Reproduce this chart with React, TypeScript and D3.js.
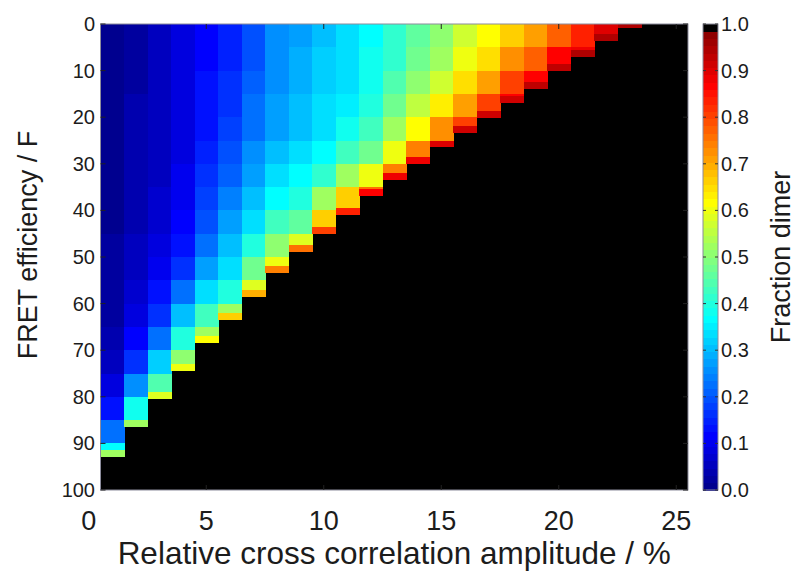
import React, { useEffect, useRef } from 'react';
import * as d3 from 'd3';

// Relative cross correlation amplitude (%) — column centres of the map
const amplitudeColumns = [1, 2, 3, 4, 5, 6, 7, 8, 9, 10, 11, 12, 13, 14, 15, 16, 17, 18, 19, 20, 21, 22, 23, 24, 25];

// FRET efficiency (%) at the start of each 5-unit row band
const fretRows = [0, 5, 10, 15, 20, 25, 30, 35, 40, 45, 50, 55, 60, 65, 70, 75, 80, 85, 90, 95];

// Fraction dimer read per column, row by row (top = FRET 0)
const fractionDimer: number[][] = [
  [0.01, 0.01, 0.01, 0.01, 0.01, 0.01, 0.012, 0.012, 0.014, 0.016, 0.018, 0.022, 0.03, 0.04, 0.06, 0.09, 0.14, 0.22, 0.36],
  [0.03, 0.03, 0.03, 0.032, 0.034, 0.036, 0.038, 0.04, 0.045, 0.05, 0.058, 0.07, 0.09, 0.12, 0.17, 0.25, 0.38],
  [0.05, 0.05, 0.052, 0.054, 0.056, 0.058, 0.062, 0.068, 0.075, 0.085, 0.1, 0.125, 0.165, 0.23, 0.32, 0.45],
  [0.08, 0.08, 0.082, 0.084, 0.086, 0.09, 0.095, 0.105, 0.12, 0.14, 0.17, 0.22, 0.3, 0.4, 0.5],
  [0.12, 0.12, 0.125, 0.13, 0.14, 0.15, 0.16, 0.18, 0.2, 0.23, 0.27, 0.33, 0.43, 0.53],
  [0.15, 0.155, 0.16, 0.17, 0.18, 0.19, 0.21, 0.24, 0.27, 0.3, 0.34, 0.4, 0.52],
  [0.2, 0.2, 0.21, 0.22, 0.23, 0.25, 0.27, 0.3, 0.34, 0.4, 0.48, 0.58],
  [0.25, 0.25, 0.26, 0.27, 0.28, 0.3, 0.33, 0.37, 0.43, 0.5, 0.6],
  [0.28, 0.285, 0.29, 0.3, 0.31, 0.33, 0.36, 0.4, 0.46, 0.58],
  [0.31, 0.315, 0.32, 0.33, 0.34, 0.36, 0.41, 0.52, 0.66],
  [0.33, 0.335, 0.34, 0.355, 0.38, 0.43, 0.52, 0.66],
  [0.37, 0.375, 0.385, 0.4, 0.43, 0.48, 0.6, 0.75],
  [0.41, 0.42, 0.44, 0.47, 0.52, 0.6, 0.74],
  [0.46, 0.47, 0.5, 0.55, 0.62, 0.74],
  [0.51, 0.53, 0.57, 0.63, 0.73],
  [0.57, 0.6, 0.65, 0.71, 0.8],
  [0.61, 0.65, 0.71, 0.8],
  [0.66, 0.72, 0.8, 0.86],
  [0.71, 0.78, 0.86],
  [0.77, 0.86],
  [0.83, 0.88],
  [0.9],
  [],
  [],
  [],
];

// FRET efficiency where each column turns black (no solution)
const blackFromFret = [93, 86.5, 80.5, 74.5, 68.5, 63.5, 58.5, 53.5, 49, 45, 41, 37, 33.5, 30, 26.5, 23.3, 20.2, 17, 14, 10, 7, 3.6, 0.8, 0, 0];

// Fraction dimer in the thin band just above the black region
const edgeFraction = [0.53, 0.53, 0.58, 0.6, 0.62, 0.66, 0.7, 0.74, 0.76, 0.8, 0.84, 0.86, 0.88, 0.89, 0.9, 0.91, 0.92, 0.92, 0.93, 0.93, 0.94, 0.95, 0.95, 0, 0];

const xTicks = [0, 5, 10, 15, 20, 25];
const yTicks = [0, 10, 20, 30, 40, 50, 60, 70, 80, 90, 100];
const colorTicks = [0, 0.1, 0.2, 0.3, 0.4, 0.5, 0.6, 0.7, 0.8, 0.9, 1.0];

function jet(m: number): number[][] {
  const n = Math.ceil(m / 4);
  const u: number[] = [];
  for (let i = 1; i <= n; i++) u.push(i / n);
  for (let i = 0; i < n - 1; i++) u.push(1);
  for (let i = n; i >= 1; i--) u.push(i / n);
  const g0 = Math.ceil(n / 2) - (m % 4 === 1 ? 1 : 0);
  const cols = Array.from({ length: m }, () => [0, 0, 0]);
  for (let k = 0; k < u.length; k++) {
    const gi = g0 + k + 1;
    const ri = gi + n;
    const bi = gi - n;
    if (gi >= 1 && gi <= m) cols[gi - 1][1] = u[k];
    if (ri >= 1 && ri <= m) cols[ri - 1][0] = u[k];
    if (bi >= 1 && bi <= m) cols[bi - 1][2] = u[k];
  }
  return cols;
}

export default function App() {
  const ref = useRef<SVGSVGElement>(null);

  useEffect(() => {
    const svg = d3.select(ref.current);
    svg.selectAll('*').remove();

    const font = '"Liberation Sans", Arial, Helvetica, sans-serif';
    const ink = '#1c1c1c';
    const plot = { left: 100.5, right: 688, top: 24, bottom: 490 };
    const edgeW = 1.5;
    const rowStep = fretRows[1] - fretRows[0];

    const x = d3.scaleLinear().domain([0.5, 25.5]).range([plot.left, plot.right]);
    const y = d3.scaleLinear().domain([0, 100]).range([plot.top, plot.bottom]);

    const palette = jet(63).concat([[0, 0, 0]]);
    const colorOf = (v: number) => {
      const i = Math.max(0, Math.min(63, Math.floor(v * 64)));
      const c = palette[i];
      return d3.rgb(c[0] * 255, c[1] * 255, c[2] * 255).formatHex();
    };

    // black background (invalid region)
    svg.append('rect')
      .attr('x', plot.left).attr('y', plot.top)
      .attr('width', plot.right - plot.left).attr('height', plot.bottom - plot.top)
      .attr('fill', '#000');

    const cells = svg.append('g').attr('shape-rendering', 'crispEdges');
    amplitudeColumns.forEach((a, ci) => {
      const b = blackFromFret[ci];
      if (b <= 0) return;
      const edgeStart = Math.max(0, b - edgeW);
      const x0 = x(a - 0.5);
      const x1 = x(a + 0.5);
      fractionDimer[ci].forEach((v, ri) => {
        const f0 = fretRows[ri];
        const f1 = Math.min(f0 + rowStep, edgeStart);
        if (f1 <= f0) return;
        cells.append('rect')
          .attr('x', x0).attr('y', y(f0))
          .attr('width', x1 - x0 + 0.5).attr('height', y(f1) - y(f0) + 0.5)
          .attr('fill', colorOf(v));
      });
      cells.append('rect')
        .attr('x', x0).attr('y', y(edgeStart))
        .attr('width', x1 - x0 + 0.5).attr('height', y(b) - y(edgeStart))
        .attr('fill', colorOf(edgeFraction[ci]));
    });

    // frame
    svg.append('rect')
      .attr('x', plot.left).attr('y', plot.top)
      .attr('width', plot.right - plot.left).attr('height', plot.bottom - plot.top)
      .attr('fill', 'none').attr('stroke', '#8c8c9c').attr('stroke-width', 1);

    // ticks
    const tickLen = 5;
    const tg = svg.append('g').attr('stroke', '#222').attr('stroke-width', 1);
    xTicks.forEach((t) => {
      const px = x(t);
      if (px < plot.left || px > plot.right) return;
      tg.append('line').attr('x1', px).attr('x2', px).attr('y1', plot.top).attr('y2', plot.top + tickLen);
      tg.append('line').attr('x1', px).attr('x2', px).attr('y1', plot.bottom).attr('y2', plot.bottom - tickLen);
    });
    yTicks.forEach((t) => {
      const py = y(t);
      tg.append('line').attr('x1', plot.left).attr('x2', plot.left + tickLen).attr('y1', py).attr('y2', py);
      tg.append('line').attr('x1', plot.right).attr('x2', plot.right - tickLen).attr('y1', py).attr('y2', py);
    });

    // tick labels
    svg.append('g').selectAll('text').data(xTicks).join('text')
      .attr('x', (d) => x(d)).attr('y', 530)
      .attr('text-anchor', 'middle')
      .attr('font-family', font).attr('font-size', 27).attr('fill', ink)
      .text((d) => String(d));

    svg.append('g').selectAll('text').data(yTicks).join('text')
      .attr('x', 95).attr('y', (d) => y(d))
      .attr('text-anchor', 'end').attr('dominant-baseline', 'central')
      .attr('font-family', font).attr('font-size', 20).attr('fill', ink)
      .text((d) => String(d));

    // axis titles
    svg.append('text')
      .attr('x', (plot.left + plot.right) / 2).attr('y', 564)
      .attr('text-anchor', 'middle')
      .attr('font-family', font).attr('font-size', 31.5).attr('fill', ink)
      .text('Relative cross correlation amplitude / %');

    svg.append('text')
      .attr('transform', `translate(37, ${(plot.top + plot.bottom) / 2 - 12}) rotate(-90)`)
      .attr('text-anchor', 'middle')
      .attr('font-family', font).attr('font-size', 27).attr('fill', ink)
      .text('FRET efficiency / F');

    // colorbar
    const cb = { left: 703, right: 718 };
    const cy = d3.scaleLinear().domain([0, 1]).range([plot.bottom, plot.top]);
    const cbg = svg.append('g').attr('shape-rendering', 'crispEdges');
    d3.range(64).forEach((i) => {
      const v0 = i / 64;
      const v1 = (i + 1) / 64;
      const c = palette[i];
      cbg.append('rect')
        .attr('x', cb.left).attr('y', cy(v1))
        .attr('width', cb.right - cb.left).attr('height', cy(v0) - cy(v1) + 0.5)
        .attr('fill', d3.rgb(c[0] * 255, c[1] * 255, c[2] * 255).formatHex());
    });
    svg.append('rect')
      .attr('x', cb.left).attr('y', plot.top)
      .attr('width', cb.right - cb.left).attr('height', plot.bottom - plot.top)
      .attr('fill', 'none').attr('stroke', '#8c8c9c').attr('stroke-width', 1);
    const ctg = svg.append('g').attr('stroke', '#333').attr('stroke-width', 1);
    colorTicks.forEach((t) => {
      ctg.append('line').attr('x1', cb.right).attr('x2', cb.right - 3).attr('y1', cy(t)).attr('y2', cy(t));
      ctg.append('line').attr('x1', cb.left).attr('x2', cb.left + 3).attr('y1', cy(t)).attr('y2', cy(t));
    });
    svg.append('g').selectAll('text').data(colorTicks).join('text')
      .attr('x', 721).attr('y', (d) => cy(d))
      .attr('dominant-baseline', 'central')
      .attr('font-family', font).attr('font-size', 20).attr('fill', ink)
      .text((d) => d3.format('.1f')(d));

    svg.append('text')
      .attr('transform', `translate(790, ${(plot.top + plot.bottom) / 2}) rotate(-90)`)
      .attr('text-anchor', 'middle')
      .attr('font-family', font).attr('font-size', 27).attr('fill', ink)
      .text('Fraction dimer');
  }, []);

  return (
    <svg
      ref={ref}
      width={800}
      height={574}
      style={{ position: 'absolute', left: 0, top: 0, background: '#fff' }}
    />
  );
}
